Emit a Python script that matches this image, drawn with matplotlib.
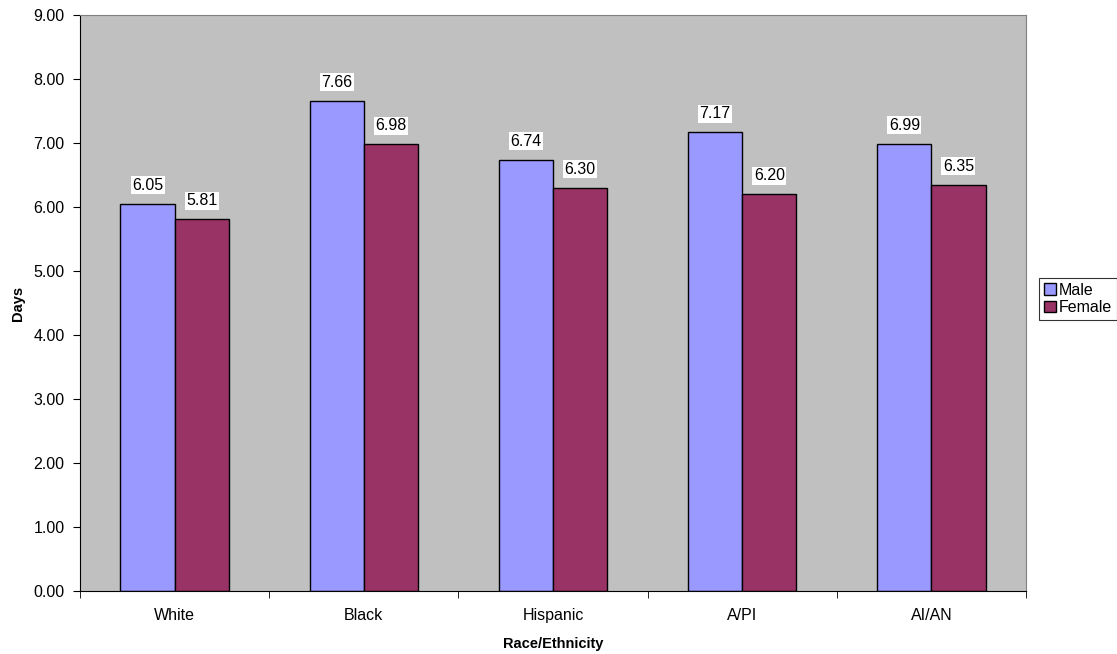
import numpy as np
import matplotlib
matplotlib.use('Agg')
from matplotlib import pyplot as plt

categories = ['White', 'Black', 'Hispanic', 'A/PI', 'AI/AN']
male = [6.05, 7.66, 6.74, 7.17, 6.99]
female = [5.81, 6.98, 6.30, 6.20, 6.35]
yticks = [0, 1, 2, 3, 4, 5, 6, 7, 8, 9]

plt.rcParams['font.family'] = ['Liberation Sans', 'DejaVu Sans']

fig = plt.figure(figsize=(11.17, 6.54), dpi=100)
ax = fig.add_axes([80 / 1117, 1 - 591 / 654, (1026 - 80) / 1117, (591 - 15) / 654])
ax.set_facecolor('#C0C0C0')

x = np.arange(len(categories))
w = 0.286
b1 = ax.bar(x - w / 2, male, w, color='#9999FF', edgecolor='black', linewidth=1, label='Male')
b2 = ax.bar(x + w / 2, female, w, color='#993366', edgecolor='black', linewidth=1, label='Female')

for bars in (b1, b2):
    for r in bars:
        ax.text(r.get_x() + r.get_width() / 2, r.get_height() + 0.17, '%.2f' % r.get_height(),
                ha='center', va='bottom', fontsize=11.5,
                bbox=dict(facecolor='white', edgecolor='none', pad=1.0))

ax.set_xlim(-0.5, len(categories) - 0.5)
ax.set_ylim(0, 9)
ax.set_yticks(yticks)
ax.set_yticklabels(['%.2f' % v for v in yticks], fontsize=11.5)
ax.set_xticks(x)
ax.set_xticklabels(categories, fontsize=11.5)
ax.tick_params(axis='x', length=0, pad=12)
ax.set_xticks(np.arange(len(categories) + 1) - 0.5, minor=True)
ax.tick_params(axis='x', which='minor', length=5, direction='out')
ax.tick_params(axis='y', length=5, direction='out', pad=6)

for s in ['top', 'right']:
    ax.spines[s].set_color('#808080')
for s in ['left', 'bottom']:
    ax.spines[s].set_color('black')

ax.set_xlabel('Race/Ethnicity', fontsize=10.5, fontweight='bold', labelpad=10)
ax.set_ylabel('Days', fontsize=10.5, fontweight='bold', labelpad=6)

leg = fig.legend(loc='upper left', bbox_to_anchor=(1039 / 1117, 1 - 278 / 654),
                 fontsize=11.5, frameon=True, fancybox=False, edgecolor='black',
                 handlelength=0.75, handleheight=0.75, handletextpad=0.2,
                 borderpad=0.3, labelspacing=0.15, borderaxespad=0)
leg.get_frame().set_linewidth(0.8)

fig.savefig('out.png', dpi=100)
